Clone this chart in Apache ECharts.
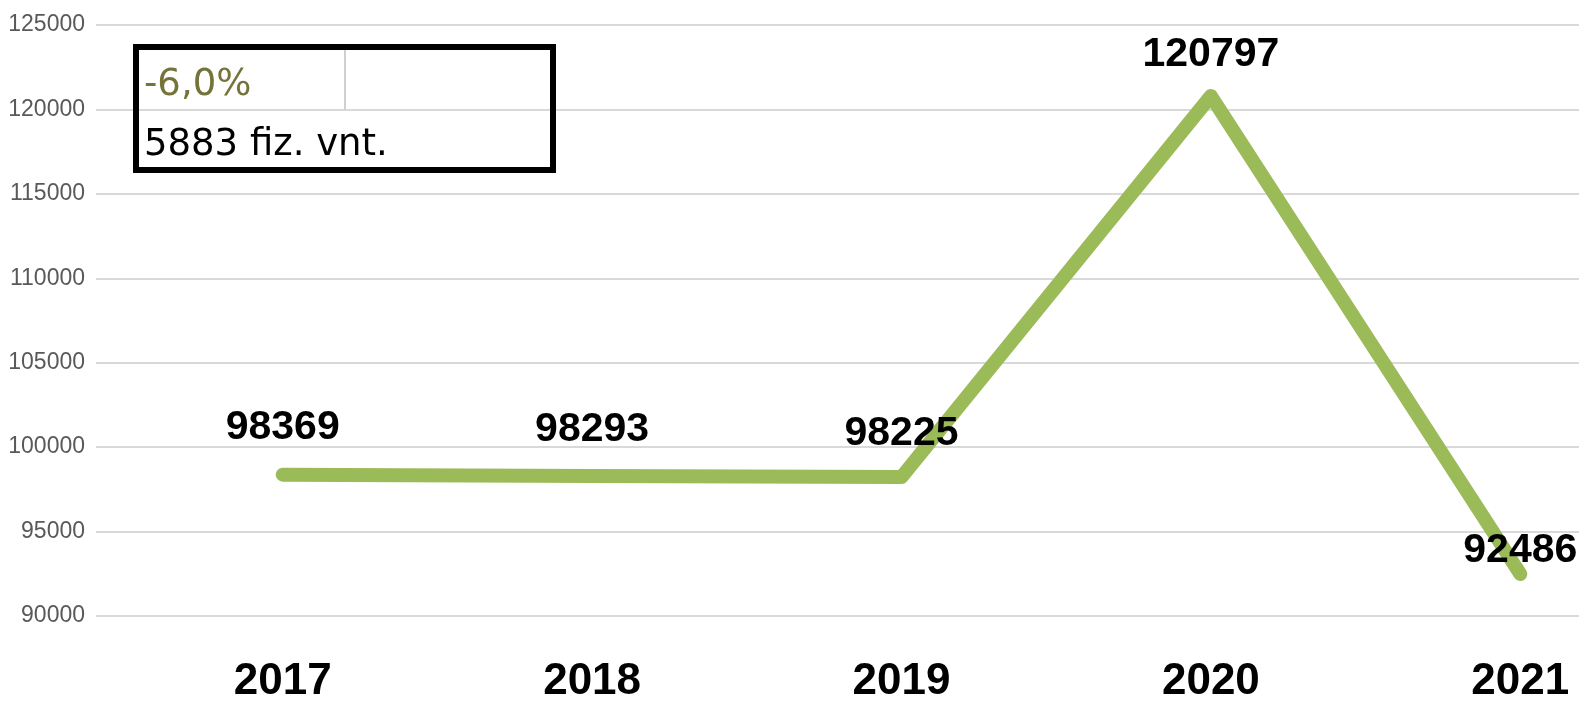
<!DOCTYPE html>
<html>
<head>
<meta charset="utf-8">
<script src="https://cdn.jsdelivr.net/npm/echarts@6/dist/echarts.min.js"></script>
<style>
  html, body { margin: 0; padding: 0; background: #fff; }
  #chart { width: 1579px; height: 703px; }
</style>
</head>
<body>
<div id="chart"></div>
<script>
// duomenys
const years = ['2017', '2018', '2019', '2020', '2021']
const values = [98369, 98293, 98225, 120797, 92486]
const yTicks = { min: 90000, max: 125000, step: 5000 }
const changeText = '-6,0%'
const diffText = '5883 fiz. vnt.'

// kiek aukščiau taško rodomas skaičius
const labelLift = [24, 24, 21, 19, 1]

const myChart = echarts.init(document.getElementById('chart'))

const option = {
  animation: false,
  grid: [
    // tinklelis ir y reikšmės
    { left: 96, width: 1483, top: 25, bottom: 87, outerBoundsMode: 'none' },
    // linija (kategorijos išeina už krašto kaip originale)
    { left: 128, width: 1547, top: 25, bottom: 87, outerBoundsMode: 'none' },
  ],
  xAxis: [
    { gridIndex: 0, type: 'category', data: years, show: false },
    {
      gridIndex: 1,
      type: 'category',
      data: years,
      axisLine: { show: false },
      axisTick: { show: false },
      axisLabel: {
        color: '#000',
        fontFamily: 'Liberation Sans',
        fontWeight: 'bold',
        fontSize: 44,
        margin: 44,
      },
    },
  ],
  yAxis: [
    {
      gridIndex: 0,
      type: 'value',
      min: yTicks.min,
      max: yTicks.max,
      interval: yTicks.step,
      axisLine: { show: false },
      axisTick: { show: false },
      axisLabel: {
        color: '#595959',
        fontFamily: 'Liberation Sans',
        fontSize: 23,
        margin: 11,
        formatter: (v) => String(v),
      },
      splitLine: { lineStyle: { color: '#d9d9d9', width: 2 } },
    },
    {
      gridIndex: 1,
      type: 'value',
      min: yTicks.min,
      max: yTicks.max,
      interval: yTicks.step,
      show: false,
      splitLine: { show: false },
    },
  ],
  series: [
    {
      type: 'line',
      xAxisIndex: 1,
      yAxisIndex: 1,
      symbol: 'circle',
      symbolSize: 4,
      showSymbol: true,
      itemStyle: { color: '#9bbb59' },
      lineStyle: { color: '#9bbb59', width: 14, cap: 'round', join: 'round' },
      label: {
        show: true,
        position: 'top',
        color: '#000',
        fontFamily: 'Liberation Sans',
        fontWeight: 'bold',
        fontSize: 41,
      },
      labelLayout: { hideOverlap: false },
      data: values.map((v, i) => ({ value: v, label: { distance: labelLift[i] } })),
      z: 3,
    },
  ],
  graphic: [
    {
      type: 'rect',
      shape: { x: 136, y: 47, width: 417, height: 123 },
      style: { fill: 'none', stroke: '#000', lineWidth: 6 },
      z: 10,
    },
    {
      type: 'line',
      shape: { x1: 345, y1: 50, x2: 345, y2: 110 },
      style: { stroke: '#d0d0d0', lineWidth: 2 },
      z: 9,
    },
    {
      type: 'text',
      left: 144,
      top: 67,
      style: {
        text: changeText,
        fill: '#74743a',
        font: '37px "DejaVu Sans"',
      },
      z: 10,
    },
    {
      type: 'text',
      left: 144,
      top: 127,
      style: {
        text: diffText,
        fill: '#000',
        font: '37px "DejaVu Sans"',
      },
      z: 10,
    },
  ],
}

option && myChart.setOption(option)
</script>
</body>
</html>
